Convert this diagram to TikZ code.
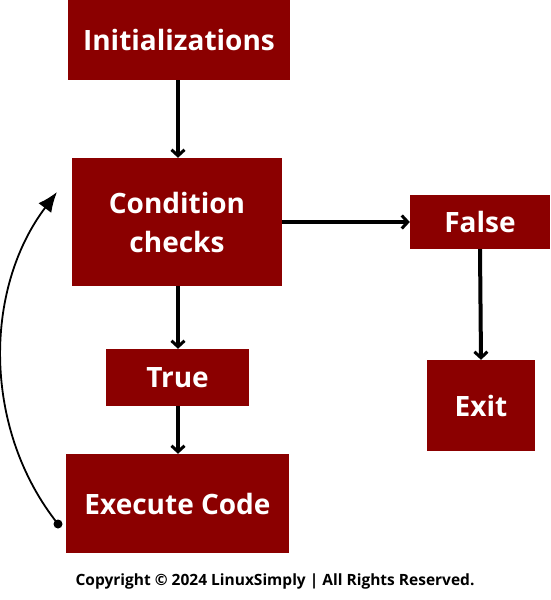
\documentclass[tikz,border=0pt]{standalone}
\usepackage{fontspec}
\setmainfont{Open Sans}
\usetikzlibrary{positioning, arrows.meta}
\definecolor{boxred}{HTML}{8B0000}
\definecolor{inkblack}{HTML}{000000}

\begin{document}
\begin{tikzpicture}[x=1pt, y=-1pt,
    flowbox/.style={fill=boxred, draw=none, text=white, font=\bfseries\fontsize{28}{34}\selectfont,
                    align=center, inner sep=0pt},
    flowarrow/.style={draw=inkblack, line width=4pt, -{Straight Barb[length=6pt, width=13pt, line width=3pt]}},
    loopback/.style={draw=inkblack, line width=1.8pt, -{Latex[length=20pt, width=16pt]}}]
  \useasboundingbox (0,0) rectangle (550,600);
  % boxes
  \node[flowbox, minimum width=222pt, minimum height=80pt] (init) at (179,40) {Initializations};
  \node[flowbox, minimum width=210pt, minimum height=128pt] (cond) at (177,222) {Condition\\[5pt]checks};
  \node[flowbox, minimum width=140pt, minimum height=54pt] (false) at (480,222) {False};
  \node[flowbox, minimum width=143pt, minimum height=57pt] (true) at (177.5,377.5) {True};
  \node[flowbox, minimum width=108pt, minimum height=91pt] (exit) at (481,405.5) {Exit};
  \node[flowbox, minimum width=223pt, minimum height=99pt] (exec) at (177.5,503.5) {Execute Code};
  % arrows
  \draw[flowarrow] (init.south -| 178,0) -- (cond.north -| 178,0);
  \draw[flowarrow] (cond.east) -- (false.west);
  \draw[flowarrow] (cond.south -| 178,0) -- (true.north -| 178,0);
  \draw[flowarrow] (true.south -| 178,0) -- (exec.north -| 178,0);
  \draw[flowarrow] (false.south) -- (exit.north);
  % loop back
  \coordinate (loopstart) at (58,524);
  \coordinate (loopend) at (57,192);
  \fill[inkblack] (loopstart) circle (4.5pt);
  \draw[loopback] (loopstart) .. controls (-17,430) and (-17,290) .. (loopend);
  \node[font=\bfseries\fontsize{15.5}{18}\selectfont] (copy) at (275,581) {Copyright © 2024 LinuxSimply | All Rights Reserved.};
\end{tikzpicture}
\end{document}
